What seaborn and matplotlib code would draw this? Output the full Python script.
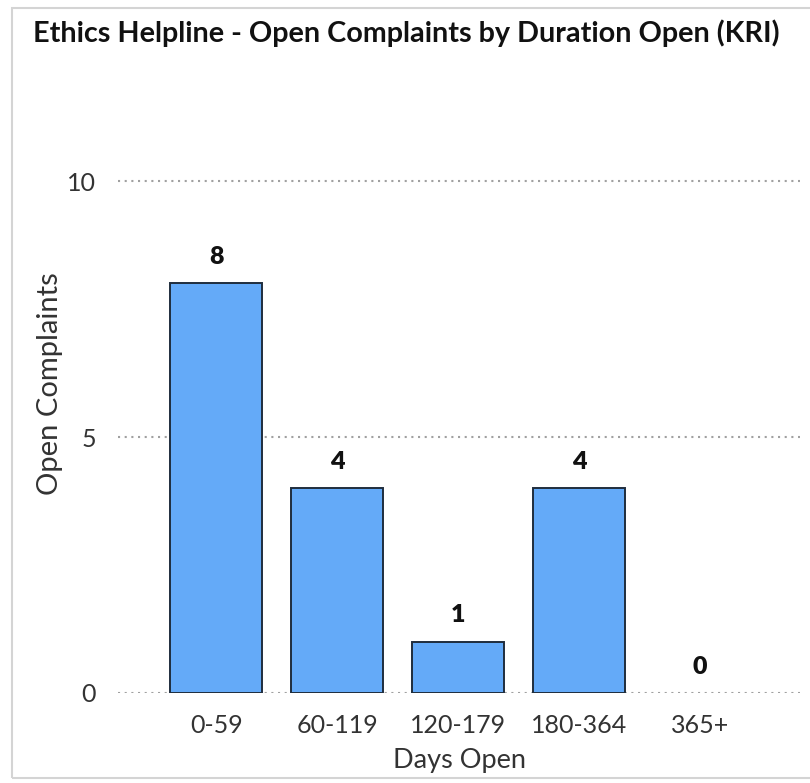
import matplotlib
matplotlib.use('Agg')
import matplotlib.pyplot as plt
import seaborn as sns
import pandas as pd
from matplotlib.patches import Rectangle

# Data
days_open = ['0-59', '60-119', '120-179', '180-364', '365+']
open_complaints = [8, 4, 1, 4, 0]
y_ticks = [0, 5, 10]

sns.set_theme(style='white')
plt.rcParams['font.family'] = ['Lato', 'DejaVu Sans']

df = pd.DataFrame({'Days Open': days_open, 'Open Complaints': open_complaints})

fig = plt.figure(figsize=(8.1, 7.83), dpi=100)
fig.patch.set_facecolor('white')

# panel border
fig.patches.append(Rectangle((12 / 810, 5 / 783), 1.0, 770 / 783, transform=fig.transFigure,
                             fill=False, edgecolor='#d4d4d4', linewidth=1.5))

ax = fig.add_axes([0.146, 0.115, 0.842, 0.789])
sns.barplot(data=df, x='Days Open', y='Open Complaints', color='#64aaf8',
            saturation=1, width=0.76, edgecolor='#1f2d3d', linewidth=1.4, ax=ax, zorder=3)

# no outline for empty bars
for p, v in zip(ax.patches, open_complaints):
    if v == 0:
        p.set_visible(False)

for i, v in enumerate(open_complaints):
    ax.text(i, v + 0.3, str(v), ha='center', va='bottom', fontsize=18,
            fontweight='heavy', color='#111111')

ax.set_ylim(0, 12.07)
ax.set_xlim(-0.81, 4.83)
ax.set_yticks(y_ticks)
ax.yaxis.grid(True, linestyle=(0, (1, 2.2)), color='#a0a0a0', linewidth=1.5, zorder=0)
ax.xaxis.grid(False)
for s in ax.spines.values():
    s.set_visible(False)
ax.tick_params(axis='both', length=0, labelsize=18, colors='#333333')
ax.tick_params(axis='y', pad=16)
ax.tick_params(axis='x', pad=15)
ax.set_xlabel('Days Open', fontsize=19.5, color='#333333', labelpad=8)
ax.set_ylabel('Open Complaints', fontsize=21, color='#333333', labelpad=3)

fig.text(33 / 810, 1 - 33 / 783, 'Ethics Helpline - Open Complaints by Duration Open (KRI)',
         fontsize=20.7, fontweight='bold', color='#111111', ha='left', va='center')

fig.savefig('out.png', dpi=100, facecolor='white')
